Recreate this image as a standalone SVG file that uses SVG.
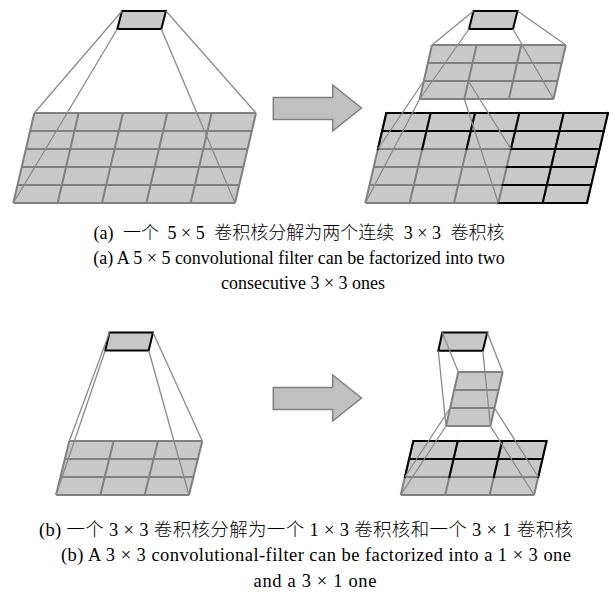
<svg xmlns="http://www.w3.org/2000/svg" width="611" height="597" viewBox="0 0 611 597">
<style>
.bg{fill:#ffffff}
.cell{fill:#c8c8c8;stroke:none}
.g{fill:none;stroke:#808080;stroke-width:2}
.k{fill:none;stroke:#000000;stroke-width:2;stroke-linecap:square}
.flt{fill:#c8c8c8;stroke:#000000;stroke-width:2;stroke-linejoin:miter}
.p{fill:none;stroke:#8a8a8a;stroke-width:1.3}
.arr{fill:#c0c0c0;stroke:#808080;stroke-width:1.5}
.t{font-family:"Liberation Serif","Noto Sans CJK SC",serif;font-size:18px;fill:#000000;text-anchor:middle}
.cjk{font-weight:300}
.tb{font-size:18.5px}
.st{text-anchor:start}
</style>
<rect class="bg" x="0" y="0" width="611" height="597"/>

<!-- (a) left: 5x5 input -->
<g id="a-left-input">
<polygon class="cell" points="34.3,113 256,113 235,203 13.3,203"/>
<path class="g" d="M34.3,113H256 M30.1,131H251.8 M25.9,149H247.6 M21.7,167H243.4 M17.5,185H239.2 M13.3,203H235 M34.3,113L13.3,203 M78.64,113L57.64,203 M122.98,113L101.98,203 M167.32,113L146.32,203 M211.66,113L190.66,203 M256,113L235,203"/>
</g>
<g id="a-left-filter">
<polygon class="flt" points="122,11 166,11 161.3,29 117.3,29"/>
</g>

<!-- (a) right: 5x5 input with black highlights -->
<g id="a-right-input">
<polygon class="cell" points="386.3,113 608,113 587,203 365.3,203"/>
<path class="g" d="M386.3,113H608 M382.1,131H603.8 M377.9,149H599.6 M373.7,167H595.4 M369.5,185H591.2 M365.3,203H587 M386.3,113L365.3,203 M430.64,113L409.64,203 M474.98,113L453.98,203 M519.32,113L498.32,203 M563.66,113L542.66,203 M608,113L587,203"/>
<path class="k" d="M386.3,113H608 M382.1,131H603.8 M510.92,149H599.6 M506.72,167H595.4 M502.52,185H591.2 M498.32,203H587 M386.3,113L377.9,149 M430.64,113L422.24,149 M474.98,113L466.58,149 M519.32,113L510.92,149 M563.66,113L542.66,203 M608,113L587,203"/>
</g>
<g id="a-right-middle">
<polygon class="cell" points="432,45 565.8,45 553.5,99 419.7,99"/>
<path class="g" d="M432,45H565.8 M427.9,63H561.7 M423.8,81H557.6 M419.7,99H553.5 M432,45L419.7,99 M476.6,45L464.3,99 M521.2,45L508.9,99 M565.8,45L553.5,99"/>
</g>
<g id="a-right-filter">
<polygon class="flt" points="473.5,11 517.5,11 513,29 469,29"/>
</g>

<!-- (b) left: 3x3 input -->
<g id="b-left-input">
<polygon class="cell" points="69.3,441 202.29,441 189,495 56.01,495"/>
<path class="g" d="M69.3,441H202.29 M64.87,459H197.86 M60.44,477H193.43 M56.01,495H189 M69.3,441L56.01,495 M113.63,441L100.34,495 M157.96,441L144.67,495 M202.29,441L189,495"/>
</g>
<g id="b-left-filter">
<polygon class="flt" points="109.5,332.5 153,332.5 148.7,350.5 105.2,350.5"/>
</g>

<!-- (b) right -->
<g id="b-right-input">
<polygon class="cell" points="413.3,441 546.65,441 534.05,495 400.7,495"/>
<path class="g" d="M413.3,441H546.65 M409.1,459H542.45 M404.9,477H538.25 M400.7,495H534.05 M413.3,441L400.7,495 M457.75,441L445.15,495 M502.2,441L489.6,495 M546.65,441L534.05,495"/>
<path class="k" d="M413.3,441H546.65 M409.1,459H542.45 M413.3,441L404.9,477 M457.75,441L449.35,477 M502.2,441L493.8,477 M546.65,441L538.25,477"/>
</g>
<g id="b-right-middle">
<polygon class="cell" points="458.3,372 502.7,372 490.4,426 446,426"/>
<path class="g" d="M458.3,372H502.7 M454.2,390H498.6 M450.1,408H494.5 M446,426H490.4 M458.3,372L446,426 M502.7,372L490.4,426"/>
</g>
<g id="b-right-filter">
<polygon class="flt" points="442.3,332.5 487.3,332.5 482.8,350.7 438.3,350.7"/>
</g>

<!-- block arrows -->
<g id="arrow-a">
<polygon class="arr" points="273.3,97.5 332.7,97.5 332.7,85 361.5,108 332.7,131 332.7,119.5 273.3,119.5"/>
</g>
<g id="arrow-b">
<polygon class="arr" points="273.3,387.5 332.7,387.5 332.7,375 361.5,398 332.7,421 332.7,409.5 273.3,409.5"/>
</g>

<!-- connectors (projection lines) -->
<g id="connectors" class="p">
<line x1="122" y1="11" x2="34.3" y2="113"/>
<line x1="166" y1="11" x2="256" y2="113"/>
<line x1="117.3" y1="29" x2="13.3" y2="203"/>
<line x1="161.3" y1="29" x2="235" y2="203"/>

<line x1="473.5" y1="11" x2="432" y2="45"/>
<line x1="517.5" y1="11" x2="565.8" y2="45"/>
<line x1="469" y1="29" x2="419.7" y2="99"/>
<line x1="513" y1="29" x2="553.5" y2="99"/>
<line x1="423.8" y1="81" x2="377.9" y2="149"/>
<line x1="468.4" y1="81" x2="510.92" y2="149"/>
<line x1="419.7" y1="99" x2="365.3" y2="203"/>
<line x1="464.3" y1="99" x2="498.32" y2="203"/>

<line x1="109.5" y1="332.5" x2="69.3" y2="441"/>
<line x1="153" y1="332.5" x2="202.29" y2="441"/>
<line x1="105.2" y1="350.5" x2="56.01" y2="495"/>
<line x1="148.7" y1="350.5" x2="189" y2="495"/>

<line x1="442.3" y1="332.5" x2="458.3" y2="372"/>
<line x1="487.3" y1="332.5" x2="502.7" y2="372"/>
<line x1="438.3" y1="350.7" x2="446" y2="426"/>
<line x1="482.8" y1="350.7" x2="490.4" y2="426"/>
<line x1="450.1" y1="408" x2="404.9" y2="477"/>
<line x1="446" y1="426" x2="400.7" y2="495"/>
<line x1="494.5" y1="408" x2="538.25" y2="477"/>
<line x1="490.4" y1="426" x2="534.05" y2="495"/>
</g>

<!-- captions -->
<g id="captions">
<text class="t cjk" x="299" y="239">(a)<tspan dx="5"> 一个</tspan><tspan dx="4"> 5 × 5</tspan><tspan dx="5"> 卷积核分解为两个连续</tspan><tspan dx="5"> 3 × 3</tspan><tspan dx="5"> 卷积核</tspan></text>
<text class="t" x="299" y="264">(a) A 5 × 5 convolutional filter can be factorized into two</text>
<text class="t" x="303" y="289">consecutive 3 × 3 ones</text>
<text class="t tb cjk st" x="39" y="536" textLength="534" lengthAdjust="spacing">(b) 一个 3 × 3 卷积核分解为一个 1 × 3 卷积核和一个 3 × 1 卷积核</text>
<text class="t tb" x="316" y="561" textLength="510" lengthAdjust="spacing">(b) A 3 × 3 convolutional-filter can be factorized into a 1 × 3 one</text>
<text class="t tb" x="315" y="587" textLength="123" lengthAdjust="spacing">and a 3 × 1 one</text>
</g>
</svg>
